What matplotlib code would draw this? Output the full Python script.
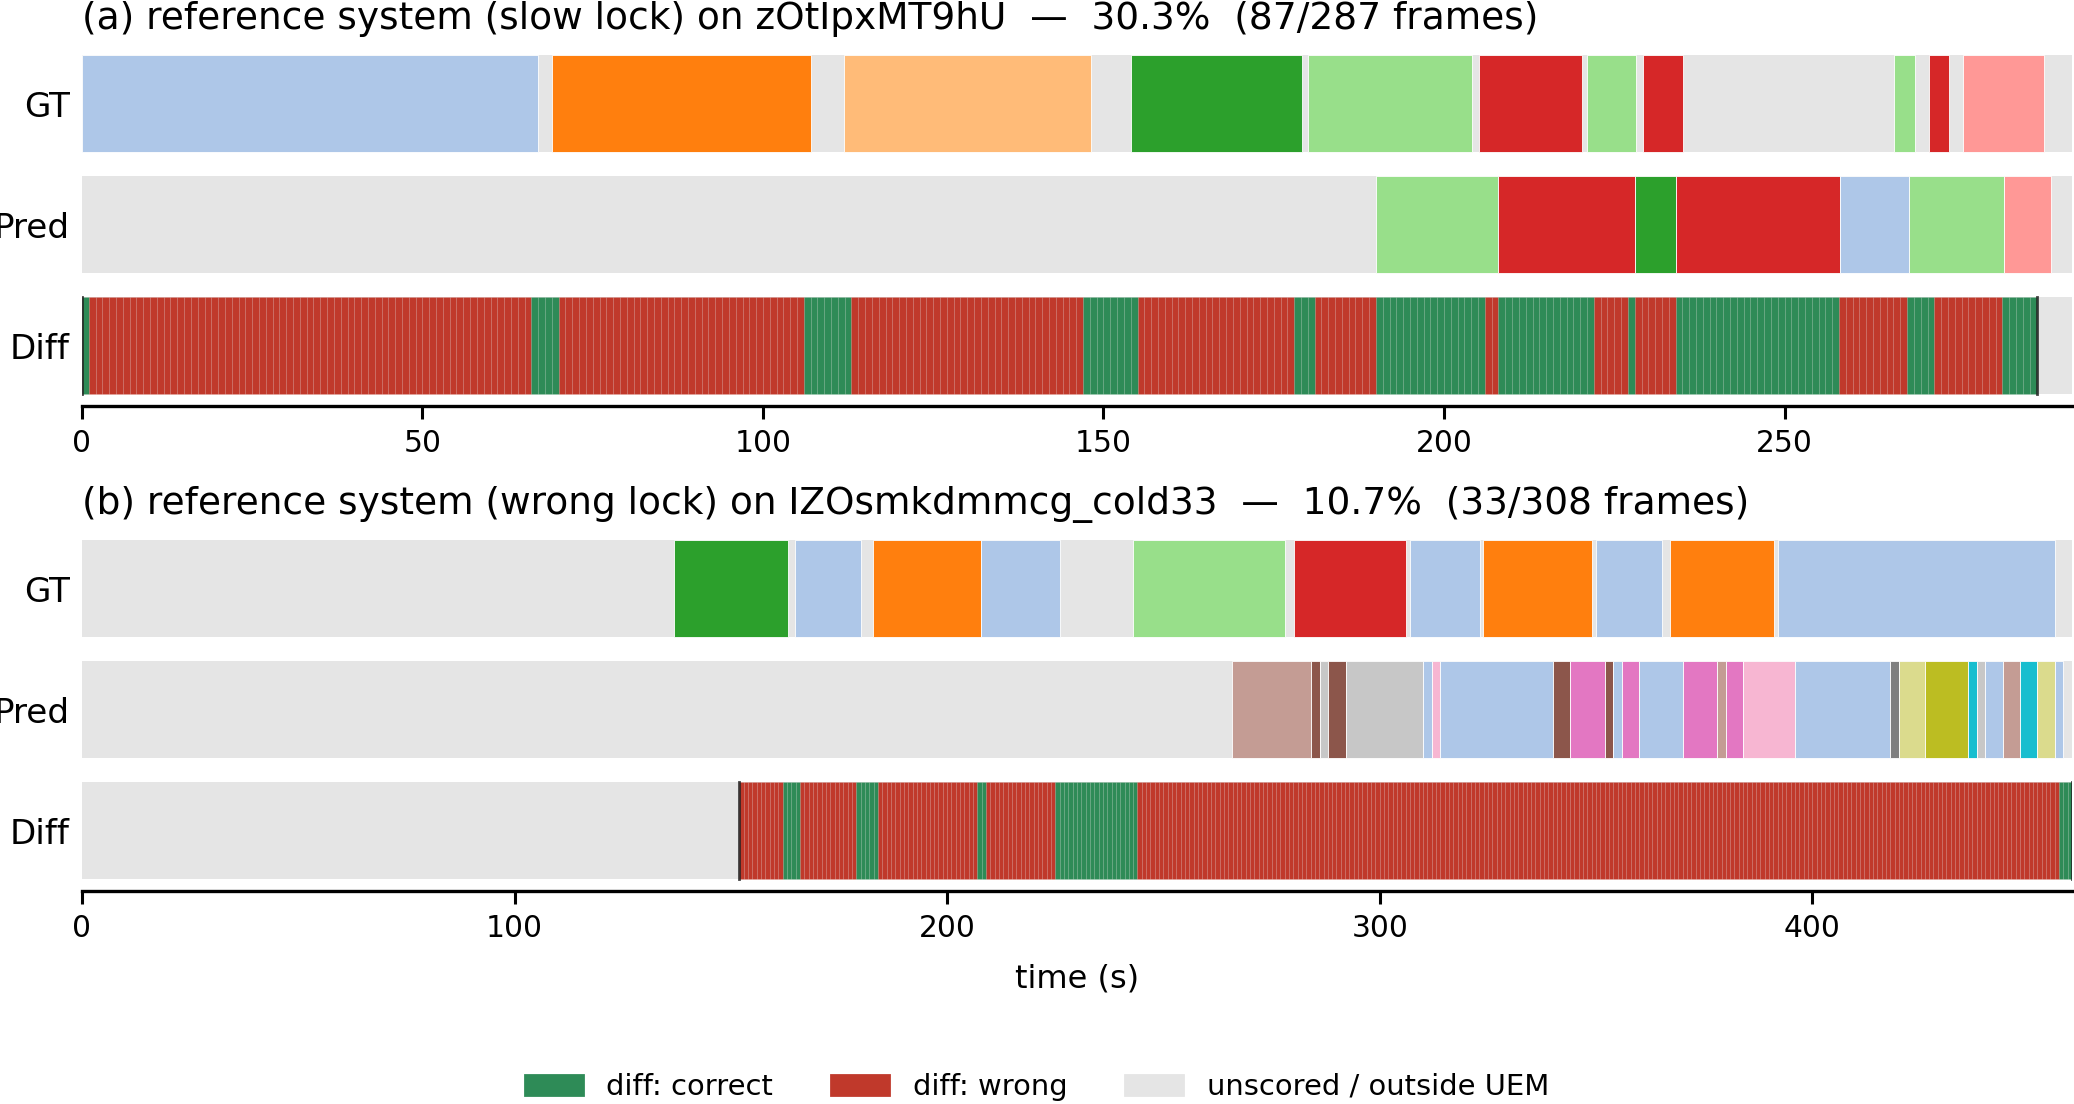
import matplotlib
matplotlib.use("Agg")
import matplotlib.pyplot as plt
from matplotlib.patches import Patch

# ---- data -------------------------------------------------------------
# speaker segments: (start, end, speaker index into tab20)
gt_a = [(0, 66.9, 1), (69.0, 107.1, 2), (111.9, 148.1, 3), (154.1, 179.1, 4),
        (180.1, 204.1, 5), (205.1, 220.2, 6), (221.0, 228.2, 5), (229.2, 235.1, 6),
        (266.1, 269.2, 5), (271.2, 274.2, 6), (276.2, 288.1, 7)]
pred_a = [(190.0, 208.0, 5), (208.0, 228.1, 6), (228.1, 234.1, 4), (234.1, 258.2, 6),
          (258.2, 268.3, 1), (268.3, 282.2, 5), (282.2, 289.2, 7)]
uem_a = (0, 287)
correct_a = [(0, 1), (66, 70), (106, 113), (147, 155), (178, 181), (190, 206),
             (208, 222), (227, 228), (234, 258), (268, 272), (282, 287)]
dur_a = 292.2
title_a = "(a) reference system (slow lock) on zOtIpxMT9hU  \u2014  30.3%  (87/287 frames)"

gt_b = [(136.9, 163.1, 4), (164.9, 180.0, 1), (182.9, 207.9, 2), (207.9, 226.0, 1),
        (242.9, 278.1, 5), (280.1, 306.1, 6), (307.0, 323.2, 1), (323.9, 349.1, 2),
        (350.0, 365.2, 1), (367.1, 391.1, 2), (392.0, 456.1, 1)]
pred_b = [(265.9, 284.1, 11), (284.1, 286.1, 10), (286.1, 288.1, 15), (288.1, 292.1, 10),
          (292.1, 310.1, 15), (310.1, 312.0, 1), (312.0, 314.0, 13), (314.0, 340.0, 1),
          (340.0, 344.0, 10), (344.0, 352.0, 12), (352.0, 354.0, 10), (354.0, 356.0, 1),
          (356.0, 360.0, 12), (360.0, 370.0, 1), (370.0, 378.0, 12), (378.0, 380.0, 11),
          (380.0, 384.0, 12), (384.0, 396.0, 13), (396.0, 418.0, 1), (418.0, 420.0, 14),
          (420.0, 426.0, 17), (426.0, 436.0, 16), (436.0, 438.0, 18), (438.0, 440.0, 15),
          (440.0, 444.0, 1), (444.0, 448.0, 11), (448.0, 452.0, 18), (452.0, 456.0, 17),
          (456.0, 458.0, 1)]
uem_b = (152, 460)
correct_b = [(162, 166), (179, 184), (207, 209), (225, 244), (457, 460)]
dur_b = 460
title_b = "(b) reference system (wrong lock) on IZOsmkdmmcg_cold33  \u2014  10.7%  (33/308 frames)"

rows = ["GT", "Pred", "Diff"]

C_OK = "#2e8b57"
C_BAD = "#c0392b"
C_BG = "#e5e5e5"
pal = plt.get_cmap("tab20").colors
H = 0.8


def draw(ax, gt, pred, uem, correct, dur, title):
    for r in range(3):
        ax.barh(r, dur, left=0, height=H, color=C_BG, linewidth=0)
    for r, segs in ((0, gt), (1, pred)):
        for s, e, k in segs:
            ax.barh(r, e - s, left=s, height=H, color=pal[k],
                    edgecolor="white", linewidth=0.3)
    ok = set()
    for s, e in correct:
        ok.update(range(s, e))
    # one stripe per scored frame
    for f in range(uem[0], uem[1]):
        ax.barh(2, 1, left=f, height=H, color=C_OK if f in ok else C_BAD,
                edgecolor=(1, 1, 1, 0.06), linewidth=0.3)
    for x in uem:
        ax.plot([x, x], [2 - H / 2, 2 + H / 2], color="#222222", lw=1.0, alpha=0.85)
    ax.set_xlim(0, dur)
    ax.set_ylim(2.5, -0.5)
    ax.set_yticks(range(3))
    ax.set_yticklabels(rows, fontsize=12.3)
    ax.tick_params(axis="y", length=0, pad=4.3)
    ax.tick_params(axis="x", length=4.7, width=1.1, labelsize=10.7)
    for sp in ("top", "right", "left"):
        ax.spines[sp].set_visible(False)
    ax.spines["bottom"].set_linewidth(1.2)
    ax.set_title(title, loc="left", fontsize=13.5, pad=5)


fig = plt.figure(figsize=(10.37, 5.52), dpi=200)
ax1 = fig.add_axes([0.0395, 0.6322, 0.9595, 0.3288])
ax2 = fig.add_axes([0.0395, 0.1929, 0.9595, 0.3288])
draw(ax1, gt_a, pred_a, uem_a, correct_a, dur_a, title_a)
draw(ax2, gt_b, pred_b, uem_b, correct_b, dur_b, title_b)
ax2.set_xlabel("time (s)", fontsize=11.5, labelpad=7.5)

handles = [Patch(color=C_OK, label="diff: correct"),
           Patch(color=C_BAD, label="diff: wrong"),
           Patch(color=C_BG, label="unscored / outside UEM")]
fig.legend(handles=handles, loc="center", bbox_to_anchor=(0.5, 0.0154), ncol=3,
           frameon=False, fontsize=10.45)

fig.savefig("out.png", dpi=200)
